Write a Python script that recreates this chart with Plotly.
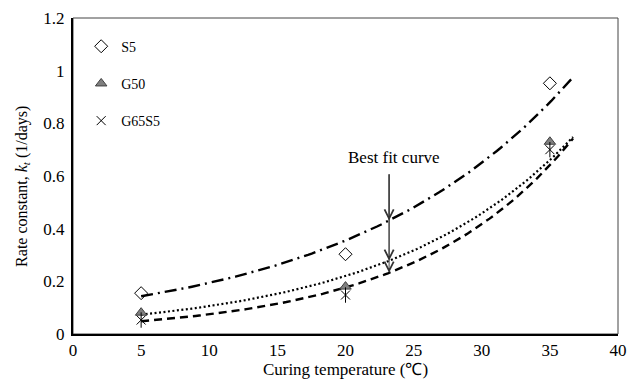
import numpy as np
import plotly.graph_objects as go

# ---- data ----
temperature = [5, 20, 35]
s5 = [0.155, 0.303, 0.952]
g50 = [0.081, 0.18, 0.73]
g65s5 = [0.053, 0.148, 0.70]

series_names = ["S5", "G50", "G65S5"]
fit_end = 36.7          # trendline forecast end (°C)
arrow_x = 23.2          # x where the "Best fit curve" arrows point
x_ticks = [0, 5, 10, 15, 20, 25, 30, 35, 40]
y_ticks = [0, 0.2, 0.4, 0.6, 0.8, 1.0, 1.2]

FONT = "Liberation Serif"


def exp_fit(x, y):
    b, ln_a = np.polyfit(np.array(x, float), np.log(np.array(y, float)), 1)
    return np.exp(ln_a), b


fig = go.Figure()

xs = np.linspace(temperature[0], fit_end, 120)
fit_styles = [("12px,5px,2px,5px", 2.4), ("2px,2.5px", 2.2), ("8px,5px", 2.4)]
fits = []
for vals, (dash, w) in zip([s5, g50, g65s5], fit_styles):
    a, b = exp_fit(temperature, vals)
    fits.append((a, b))
    fig.add_trace(go.Scatter(x=xs, y=a * np.exp(b * xs), mode="lines",
                             line=dict(color="black", dash=dash, width=w),
                             showlegend=False, hoverinfo="skip"))

fig.add_trace(go.Scatter(x=temperature, y=s5, mode="markers", name=series_names[0],
                         legendgroup="a",
                         marker=dict(symbol="diamond-open", size=10, color="black",
                                     line=dict(width=1, color="black"))))
fig.add_trace(go.Scatter(x=temperature, y=g50, mode="markers", name=series_names[1],
                         legendgroup="b",
                         marker=dict(symbol="triangle-up", size=10, color="#7f7f7f",
                                     line=dict(width=1, color="#404040"))))
fig.add_trace(go.Scatter(x=temperature, y=g65s5, mode="markers", name=series_names[2],
                         legendgroup="c",
                         marker=dict(symbol="x-thin-open", size=9, color="black",
                                     line=dict(width=1, color="black"))))
fig.add_trace(go.Scatter(x=temperature, y=g65s5, mode="markers", showlegend=False,
                         legendgroup="c", hoverinfo="skip",
                         marker=dict(symbol="line-ns-open", size=11, color="black",
                                     line=dict(width=1, color="black"))))

# "Best fit curve" label and arrows
fig.add_annotation(x=arrow_x, y=0.67, xref="x", yref="y", xshift=5,
                   text="Best fit curve",
                   showarrow=False, font=dict(family=FONT, size=17, color="black"))
for a, b in fits:
    fig.add_annotation(x=arrow_x, y=a * np.exp(b * arrow_x), xref="x", yref="y",
                       ax=arrow_x, ay=0.612, axref="x", ayref="y", text="",
                       showarrow=True, arrowhead=5, arrowsize=2.0, arrowwidth=0.9,
                       arrowcolor="#333333")

# y-axis title
fig.add_annotation(xref="paper", yref="paper", x=-0.094, y=0.468,
                   xanchor="center", yanchor="middle",
                   text="Rate constant, <i>k</i><sub><i>t</i></sub> (1/days)",
                   textangle=-90, showarrow=False,
                   font=dict(family=FONT, size=16, color="black"))

# thin outer border (top/right)
fig.add_shape(type="rect", xref="paper", yref="paper", x0=0, y0=0, x1=1, y1=1,
              line=dict(color="#444444", width=1), layer="below")

fig.update_layout(
    width=629, height=383,
    margin=dict(l=73, r=11, t=18, b=49, autoexpand=False),
    paper_bgcolor="white", plot_bgcolor="white",
    font=dict(family=FONT, size=17, color="black"),
    legend=dict(x=0.015, y=0.96, xanchor="left", yanchor="top",
                traceorder="grouped", tracegroupgap=16,
                bgcolor="rgba(0,0,0,0)", font=dict(family=FONT, size=14),
                itemwidth=30),
    xaxis=dict(range=[0, 40], tickvals=x_ticks, showgrid=False, zeroline=False,
               showline=True, linecolor="black", linewidth=2, automargin=False,
               ticklabeloverflow="allow",
               title=dict(text="Curing temperature (℃)", font=dict(family=FONT, size=17),
                          standoff=4),
               tickfont=dict(family=FONT, size=17)),
    yaxis=dict(range=[0, 1.2], tickvals=y_ticks, showgrid=False, zeroline=False,
               showline=True, linecolor="black", linewidth=2, automargin=False,
               ticklabeloverflow="allow", ticklabelstandoff=3,
               tickfont=dict(family=FONT, size=17)),
)

# remove the default page margin so the 629x383 figure fills the window exactly
fig.write_html("out.html",
               config={"displayModeBar": False},
               post_script="document.body.style.margin='0';"
                           "document.body.style.overflow='hidden';")
